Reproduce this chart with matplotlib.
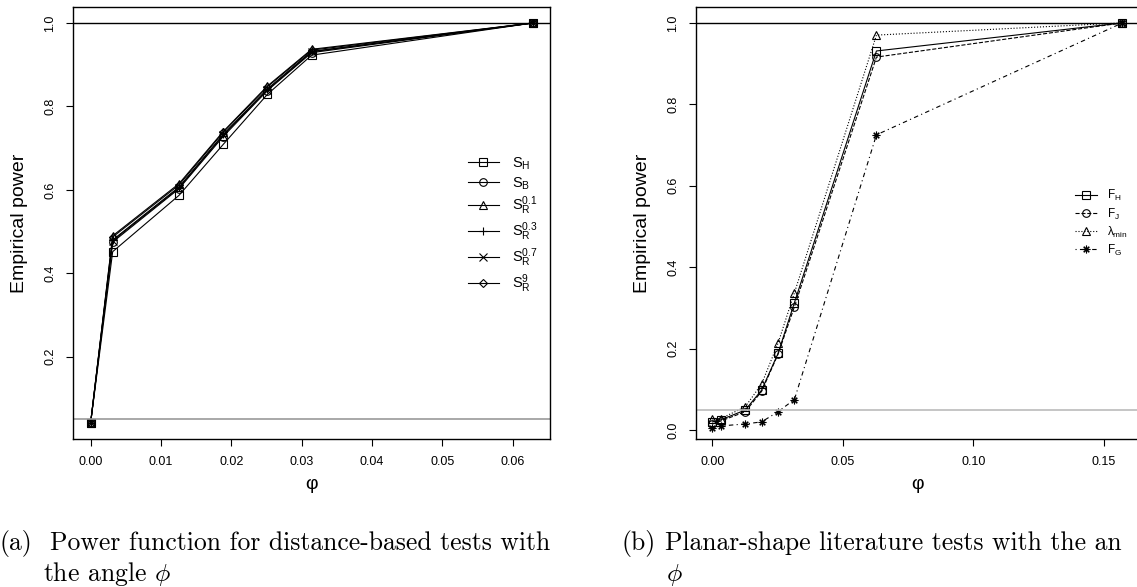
import matplotlib
matplotlib.use("Agg")
import matplotlib.pyplot as plt

plt.rcParams['font.family'] = ['Liberation Sans', 'DejaVu Sans']
plt.rcParams['mathtext.fontset'] = 'custom'
plt.rcParams['mathtext.rm'] = 'Liberation Sans'
plt.rcParams['mathtext.it'] = 'Liberation Sans:italic'

# angle phi (radians)
phi_a = [0.0, 0.00314, 0.01257, 0.01885, 0.02513, 0.03142, 0.06283]
phi_b = [0.0, 0.00314, 0.01257, 0.01885, 0.02513, 0.03142, 0.06283, 0.15708]

# panel (a): distance-based tests
s_h   = [0.041, 0.452, 0.587, 0.709, 0.829, 0.923, 1.0]
s_b   = [0.041, 0.475, 0.603, 0.728, 0.838, 0.929, 1.0]
s_r01 = [0.041, 0.490, 0.615, 0.740, 0.849, 0.937, 1.0]
s_r03 = [0.041, 0.480, 0.607, 0.733, 0.842, 0.932, 1.0]
s_r07 = [0.041, 0.478, 0.605, 0.731, 0.840, 0.931, 1.0]
s_r9  = [0.041, 0.487, 0.612, 0.738, 0.847, 0.935, 1.0]

# panel (b): planar-shape literature tests
f_h   = [0.020, 0.025, 0.049, 0.098, 0.188, 0.313, 0.931, 1.0]
f_j   = [0.015, 0.022, 0.045, 0.095, 0.186, 0.303, 0.916, 1.0]
lam   = [0.027, 0.028, 0.057, 0.113, 0.213, 0.337, 0.970, 1.0]
f_g   = [0.006, 0.010, 0.015, 0.020, 0.045, 0.075, 0.725, 1.0]

W, H = 1137, 587
fig = plt.figure(figsize=(W / 100, H / 100), dpi=100)

def px_axes(x0, x1, y0, y1):
    return fig.add_axes([x0 / W, 1 - y1 / H, (x1 - x0) / W, (y1 - y0) / H])

def style(ax):
    for s in ax.spines.values():
        s.set_color("black"); s.set_linewidth(1.0)
    ax.tick_params(direction="out", length=5, width=0.8, labelsize=9, color="black")
    ax.tick_params(axis="x", pad=7)
    ax.tick_params(axis="y", pad=7)
    for lab in ax.get_yticklabels():
        lab.set_rotation(90); lab.set_va("center")
    ax.set_ylabel("Empirical power", fontsize=14, labelpad=12)
    ax.set_xlabel("φ", fontsize=14, labelpad=6)

star = (8, 2, 0)
kw = dict(color="black", lw=0.8, ms=5.5, mfc="none", mew=0.8)

# ---- (a)
ax1 = px_axes(73, 550, 7, 439)
series_a = [
    (s_h, "s", "S$_\\mathrm{H}$"),
    (s_b, "o", "S$_\\mathrm{B}$"),
    (s_r01, "^", "S$_\\mathrm{R}^{0.1}$"),
    (s_r03, "+", "S$_\\mathrm{R}^{0.3}$"),
    (s_r07, "x", "S$_\\mathrm{R}^{0.7}$"),
    (s_r9, "D", "S$_\\mathrm{R}^{9}$"),
]
for ys, mk, lab in series_a:
    ax1.plot(phi_a, ys, marker=mk, ls="-", label=lab,
             **dict(kw, ms=4.5 if mk == "D" else 5.5))
ax1.axhline(1.0, color="black", lw=1.0)
ax1.axhline(0.05, color="#999999", lw=1.2)
ax1.set_xlim(-0.0025, 0.0653)
ax1.set_ylim(0.003, 1.0384)
ax1.set_xticks([0.0, 0.01, 0.02, 0.03, 0.04, 0.05, 0.06])
ax1.set_xticklabels(["0.00", "0.01", "0.02", "0.03", "0.04", "0.05", "0.06"])
ax1.set_yticks([0.2, 0.4, 0.6, 0.8, 1.0])
ax1.set_yticklabels(["0.2", "0.4", "0.6", "0.8", "1.0"])
style(ax1)
ax1.legend(frameon=False, fontsize=10.5, loc="center left",
           bbox_to_anchor=(0.828, 0.495), borderaxespad=0, borderpad=0,
           handlelength=2.1, handletextpad=0.9, labelspacing=0.22)

# ---- (b)
ax2 = px_axes(696, 1139, 7, 439)
series_b = [
    (f_h, "s", "-", "F$_\\mathrm{H}$"),
    (f_j, "o", "--", "F$_\\mathrm{J}$"),
    (lam, "^", ":", "λ$_\\mathrm{min}$"),
    (f_g, star, (0, (1, 3, 4, 3)), "F$_\\mathrm{G}$"),
]
for ys, mk, ls, lab in series_b:
    ax2.plot(phi_b, ys, marker=mk, ls=ls, label=lab, **kw)
ax2.axhline(1.0, color="black", lw=1.0)
ax2.axhline(0.05, color="#bbbbbb", lw=1.2)
ax2.set_xlim(-0.00628, 0.1634)
ax2.set_ylim(-0.022, 1.039)
ax2.set_xticks([0.0, 0.05, 0.10, 0.15])
ax2.set_xticklabels(["0.00", "0.05", "0.10", "0.15"])
ax2.set_yticks([0.0, 0.2, 0.4, 0.6, 0.8, 1.0])
ax2.set_yticklabels(["0.0", "0.2", "0.4", "0.6", "0.8", "1.0"])
style(ax2)
ax2.legend(frameon=False, fontsize=8.5, loc="center left",
           bbox_to_anchor=(0.855, 0.50), borderaxespad=0, borderpad=0,
           handlelength=1.9, handletextpad=0.8, labelspacing=0.25)

# ---- captions
cap = dict(fontfamily="cmr10", fontsize=18.5, va="baseline", ha="left", math_fontfamily="cm")
fig.text(0 / W, 1 - 550 / H, "(a)", **cap)
fig.text(50 / W, 1 - 550 / H, "Power function for distance-based tests with", **cap)
fig.text(43 / W, 1 - 581 / H, "the angle $\\phi$", **cap)
fig.text(621 / W, 1 - 550 / H, "(b)", **cap)
fig.text(665 / W, 1 - 550 / H, "Planar-shape literature tests with the an", **cap)
fig.text(666 / W, 1 - 581 / H, "$\\phi$", **cap)

fig.savefig("out.png", dpi=100)
